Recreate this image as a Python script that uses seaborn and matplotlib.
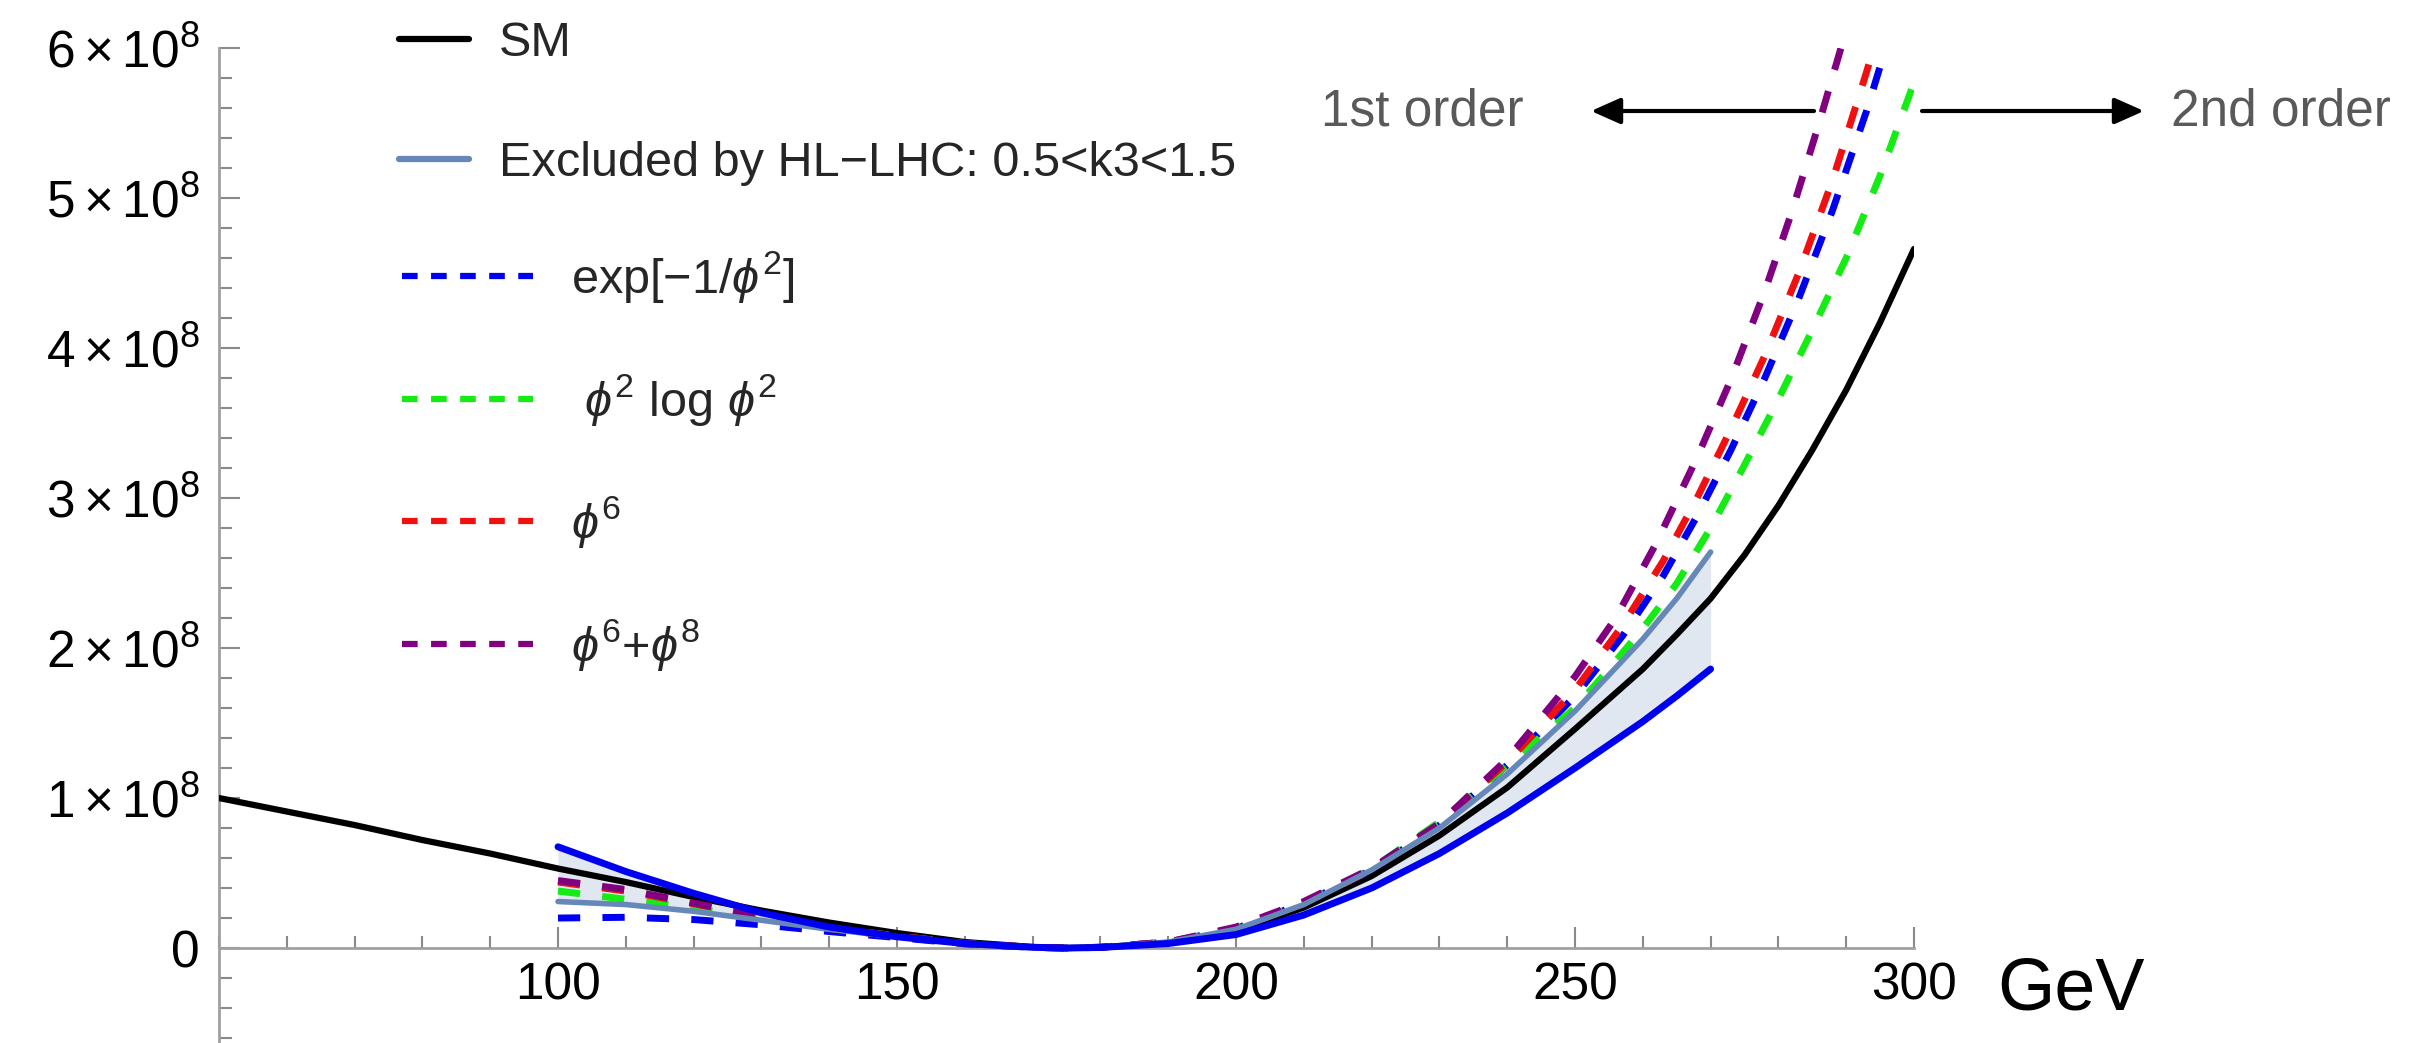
import numpy as np
import seaborn as sns
import matplotlib.pyplot as plt
from matplotlib.lines import Line2D
from matplotlib.ticker import MultipleLocator

# temperature in GeV, values in units of 1e8
sm_x = [50, 60, 70, 80, 90, 100, 110, 120, 130, 140, 150, 160, 170, 175,
        180, 190, 200, 210, 220, 230, 240, 250, 260, 265, 270, 275, 280, 285, 290, 295, 300]
sm_y = [1.00, 0.91, 0.82, 0.72, 0.63, 0.53, 0.44, 0.34, 0.25, 0.17, 0.10, 0.04, 0.007, 0.0,
        0.005, 0.035, 0.11, 0.27, 0.48, 0.75, 1.07, 1.46, 1.86, 2.09, 2.33, 2.62, 2.95, 3.32,
        3.72, 4.17, 4.66]

low_x = [100, 110, 120, 130, 140, 150, 160, 170, 175, 180, 190, 200, 210, 220, 230, 240, 250]

exp_x = low_x + [257, 263, 268, 273, 278, 283, 288, 293, 298]
exp_y = [0.20, 0.205, 0.19, 0.155, 0.11, 0.07, 0.028, 0.005, 0.0, 0.005, 0.04,
         0.13, 0.30, 0.52, 0.82, 1.22, 1.68,
         2.08, 2.48, 2.88, 3.32, 3.80, 4.33, 4.92, 5.58, 6.32]

log_x = low_x + [255, 260, 265, 270, 275, 280, 285, 290, 295, 300]
log_y = [0.38, 0.325, 0.265, 0.20, 0.135, 0.08, 0.03, 0.005, 0.0, 0.005, 0.04,
         0.13, 0.30, 0.53, 0.84, 1.22, 1.60,
         1.86, 2.13, 2.43, 2.80, 3.22, 3.66, 4.12, 4.60, 5.15, 5.77]

phi6_x = low_x + [257, 263, 268, 273, 278, 283, 288, 293, 298]
phi6_y = [0.44, 0.38, 0.295, 0.21, 0.13, 0.08, 0.03, 0.005, 0.0, 0.005, 0.04,
          0.13, 0.30, 0.52, 0.83, 1.24, 1.72,
          2.15, 2.58, 3.00, 3.46, 3.95, 4.50, 5.12, 5.84, 6.60]

phi68_x = low_x + [256, 262, 268, 273, 278, 282, 286, 290, 295]
phi68_y = [0.45, 0.39, 0.30, 0.21, 0.13, 0.08, 0.03, 0.005, 0.0, 0.005, 0.04,
           0.14, 0.31, 0.53, 0.83, 1.26, 1.81,
           2.20, 2.70, 3.27, 3.79, 4.38, 4.91, 5.50, 6.12, 7.00]

# HL-LHC band edges (0.5 < k3 < 1.5)
band_x = [100, 110, 120, 130, 140, 150, 160, 170, 175, 180, 190,
          200, 210, 220, 230, 240, 250, 260, 265, 270]
band_steel = [0.31, 0.29, 0.245, 0.185, 0.125, 0.075, 0.03, 0.005, 0.0, 0.005, 0.04,
              0.125, 0.29, 0.52, 0.80, 1.16, 1.58, 2.06, 2.33, 2.64]
band_blue = [0.675, 0.51, 0.365, 0.235, 0.14, 0.075, 0.03, 0.005, 0.0, 0.004, 0.03,
             0.09, 0.22, 0.40, 0.63, 0.90, 1.20, 1.51, 1.68, 1.86]

x_ticks = [100, 150, 200, 250, 300]
y_ticks = [0, 1, 2, 3, 4, 5, 6]

solid_labels = ['SM', 'Excluded by HL\u2212LHC: 0.5<k3<1.5']
dashed_labels = [r'exp[$-1/\phi^{2}$]', r' $\phi^{2}$ log $\phi^{2}$',
                 r'$\phi^{6}$', r'$\phi^{6}$+$\phi^{8}$']

STEEL = '#6688b8'
BLUE = '#0000f0'
GREEN = '#14ec14'
RED = '#f01010'
PURPLE = '#800080'
DASH = (0, (3.2, 3.2))

sns.set_style('white')
plt.rcParams['font.family'] = ['Liberation Sans', 'DejaVu Sans']
plt.rcParams['mathtext.fontset'] = 'custom'
plt.rcParams['mathtext.rm'] = 'Liberation Sans'
plt.rcParams['mathtext.it'] = 'Liberation Sans:italic'
plt.rcParams['mathtext.bf'] = 'Liberation Sans:bold'
plt.rcParams['mathtext.fallback'] = 'stixsans'

W, H = 2412, 1043
fig = plt.figure(figsize=(W / 100, H / 100), dpi=100)
ax = fig.add_axes([219 / W, 0, 1695 / W, 995 / H])

def scaled(vals):
    return np.array(vals) * 1e8

# shaded band between the two HL-LHC edges
ax.fill_between(band_x, scaled(band_steel), scaled(band_blue), color=STEEL,
                alpha=0.2, lw=0, zorder=1)

sns.lineplot(x=sm_x, y=scaled(sm_y), ax=ax, color='black', lw=4.5, errorbar=None, zorder=3)
for xx, yy, col in [(exp_x, exp_y, BLUE), (log_x, log_y, GREEN),
                    (phi6_x, phi6_y, RED), (phi68_x, phi68_y, PURPLE)]:
    sns.lineplot(x=xx, y=scaled(yy), ax=ax, color=col, lw=5,
                 linestyle=DASH, errorbar=None, zorder=4)
sns.lineplot(x=band_x, y=scaled(band_steel), ax=ax, color=STEEL, lw=4, errorbar=None, zorder=5)
sns.lineplot(x=band_x, y=scaled(band_blue), ax=ax, color=BLUE, lw=5, errorbar=None, zorder=5)

ax.set_xlim(50, 300)
ax.set_ylim(-0.633e8, 6e8)

for s in ['top', 'right']:
    ax.spines[s].set_visible(False)
ax.spines['bottom'].set_position(('data', 0))
for s in ['left', 'bottom']:
    ax.spines[s].set_color('#a0a0a0')
    ax.spines[s].set_linewidth(2)

ax.set_xticks(x_ticks)
ax.set_xticklabels([str(v) for v in x_ticks])
ax.xaxis.set_minor_locator(MultipleLocator(10))
ax.set_yticks(scaled(y_ticks))
ax.set_yticklabels(['0'] + [r'$%d\times10^{8}$' % v for v in y_ticks[1:]])
ax.yaxis.set_minor_locator(MultipleLocator(2e7))
ax.tick_params(which='both', direction='in', color='#8a8a8a', width=1.5,
               labelsize=37, labelcolor='black', bottom=True, left=True)
ax.tick_params(which='major', length=15)
ax.tick_params(which='minor', length=9)
ax.tick_params(axis='x', pad=10)
ax.tick_params(axis='y', pad=14)
ax.set_xlabel('')
ax.set_ylabel('')

# legends: solid entries and dashed entries have different sample lengths
solid_handles = [Line2D([], [], color='black', lw=4.5), Line2D([], [], color=STEEL, lw=4.5)]
leg1 = ax.legend(solid_handles, solid_labels, loc='upper left',
                 bbox_to_anchor=(399 / W, 1 - 21 / H), bbox_transform=fig.transFigure,
                 frameon=False, fontsize=35, handlelength=1.44, handletextpad=0.62,
                 labelspacing=1.55, borderpad=0, borderaxespad=0)
ax.add_artist(leg1)
dashed_handles = [Line2D([], [], color=c, lw=4.5, linestyle=(0, (2.5, 2.15)))
                  for c in [BLUE, GREEN, RED, PURPLE]]
ax.legend(dashed_handles, dashed_labels, loc='upper left',
          bbox_to_anchor=(402 / W, 1 - 249 / H), bbox_transform=fig.transFigure,
          frameon=False, fontsize=35, handlelength=2.69, handletextpad=0.78,
          labelspacing=1.37, borderpad=0, borderaxespad=0)

# order annotations
arrow_y = H - 111
ax.annotate('', xy=(1591, arrow_y), xytext=(1814, arrow_y), xycoords='figure pixels',
            arrowprops=dict(arrowstyle='-|>,head_length=0.9,head_width=0.4', color='black',
                            lw=3, mutation_scale=20, shrinkA=0, shrinkB=0),
            annotation_clip=False)
ax.annotate('', xy=(2144, arrow_y), xytext=(1922, arrow_y), xycoords='figure pixels',
            arrowprops=dict(arrowstyle='-|>,head_length=0.9,head_width=0.4', color='black',
                            lw=3, mutation_scale=20, shrinkA=0, shrinkB=0),
            annotation_clip=False)
fig.text(1321 / W, 1 - 112 / H, '1st order', fontsize=37, color='#595959', va='center')
fig.text(2171 / W, 1 - 112 / H, '2nd order', fontsize=37, color='#595959', va='center')
fig.text(1997 / W, 1 - 990 / H, 'GeV', fontsize=53, color='black', va='center')

fig.savefig('out.png', dpi=100)
